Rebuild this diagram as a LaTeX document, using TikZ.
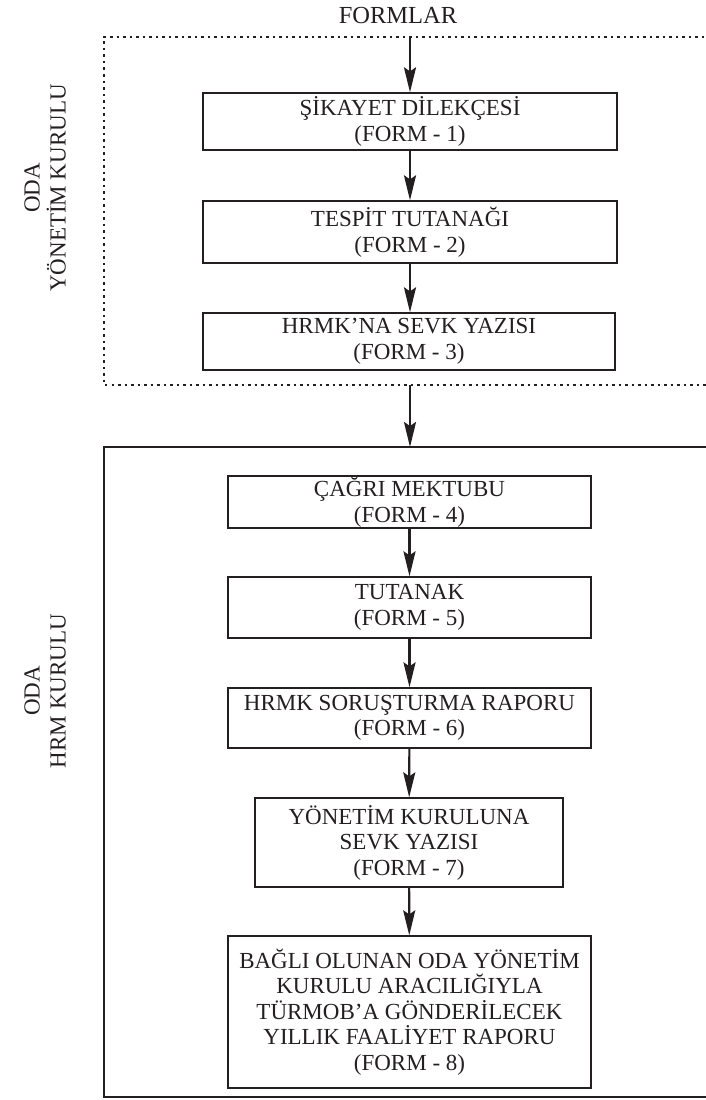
\documentclass[tikz,border=0pt]{standalone}
\usepackage{fontspec}
\setmainfont{Liberation Serif}
\usetikzlibrary{arrows.meta}
\definecolor{ink}{HTML}{231F20}
\begin{document}
\begin{tikzpicture}[x=1pt,y=-1pt,
  formbox/.style={draw=ink, line width=1.3pt, align=center, inner sep=0pt,
    font=\fontsize{23}{25.5}\selectfont, text=ink},
  flow/.style={draw=ink, line width=2.2pt, -{Stealth[length=25pt,width=12pt,inset=4pt]}},
  sidelabel/.style={rotate=90, align=center, font=\fontsize{23}{26}\selectfont, text=ink},
  dotline/.style={draw=ink, line width=2.5pt, dash pattern=on 2.5pt off 4pt},
  solidline/.style={draw=ink, line width=2.8pt}]
\useasboundingbox (0,0) rectangle (706,1100);
\clip (0,0) rectangle (706,1100);
% title
\node[font=\fontsize{24.5}{28}\selectfont, text=ink] (title) at (398,16) {FORMLAR};
% group frames
\draw[dotline] (730,37) -- (104,37) -- (104,385) -- (730,385);
\draw[solidline] (730,447) -- (104,447) -- (104,1097) -- (730,1097);
\coordinate (dtop) at (410,37);
\coordinate (dbot) at (410,385);
\coordinate (stop) at (410,447);
% side labels
\node[sidelabel] (lab1) at (45,188) {ODA\\YÖNETİM KURULU};
\node[sidelabel] (lab2) at (45,691) {ODA\\HRM KURULU};
% boxes
\node[formbox, minimum width=414pt, minimum height=57pt] (b1) at (410,121.5) {ŞİKAYET DİLEKÇESİ\\(FORM - 1)};
\node[formbox, minimum width=414pt, minimum height=62pt] (b2) at (410,232) {TESPİT TUTANAĞI\\(FORM - 2)};
\node[formbox, minimum width=412pt, minimum height=57pt] (b3) at (409,341.5) {HRMK’NA SEVK YAZISI\\(FORM - 3)};
\node[formbox, minimum width=363pt, minimum height=52pt] (b4) at (409.5,502) {ÇAĞRI MEKTUBU\\(FORM - 4)};
\node[formbox, minimum width=363pt, minimum height=61pt] (b5) at (409.5,607.5) {TUTANAK\\(FORM - 5)};
\node[formbox, minimum width=363pt, minimum height=60pt] (b6) at (409.5,718) {HRMK SORUŞTURMA RAPORU\\(FORM - 6)};
\node[formbox, minimum width=308pt, minimum height=89pt] (b7) at (409,842.5) {YÖNETİM KURULUNA\\SEVK YAZISI\\(FORM - 7)};
\node[formbox, minimum width=363pt, minimum height=152pt] (b8) at (409.5,1012) {BAĞLI OLUNAN ODA YÖNETİM\\KURULU ARACILIĞIYLA\\TÜRMOB’A GÖNDERİLECEK\\YILLIK FAALİYET RAPORU\\(FORM - 8)};
% arrows
\draw[flow] (dtop) -- (b1.north -| dtop);
\draw[flow] (b1.south -| dtop) -- (b2.north -| dtop);
\draw[flow] (b2.south -| dtop) -- (b3.north -| dtop);
\draw[flow] (dbot) -- (stop);
\draw[flow] (b4) -- (b5);
\draw[flow] (b5) -- (b6);
\draw[flow] (b6) -- (b7);
\draw[flow] (b7) -- (b8);
\end{tikzpicture}
\end{document}
